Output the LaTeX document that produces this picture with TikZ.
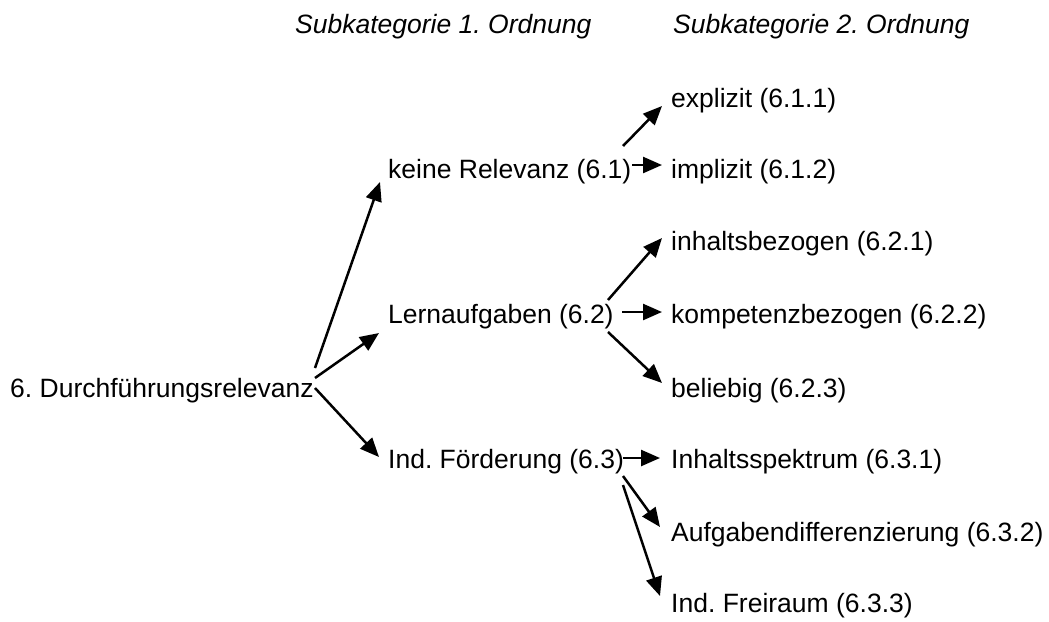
\documentclass[tikz,border=0pt]{standalone}
\usepackage{fontspec}
\setmainfont{Liberation Sans}
\usetikzlibrary{arrows.meta}
\frenchspacing
\begin{document}
\begin{tikzpicture}[x=1pt,y=-1pt,
  lbl/.style={anchor=base west, inner sep=0pt, font=\fontsize{26.5}{32}\selectfont\frenchspacing},
  hdr/.style={lbl, font=\fontsize{26.5}{32}\selectfont\frenchspacing\itshape},
  link/.style={line width=2.5pt, -{Triangle[length=19pt,width=16pt]}}]
\useasboundingbox (0,0) rectangle (1049,621);

% column headings
\node[hdr] (h1) at (295,33) {Subkategorie 1. Ordnung};
\node[hdr] (h2) at (673,33) {Subkategorie 2. Ordnung};

% main category
\node[lbl] (root) at (10,397) {6. Durchführungsrelevanz};

% first-order subcategories
\node[lbl] (k1) at (388,178) {keine Relevanz (6.1)};
\node[lbl] (k2) at (388,323) {Lernaufgaben (6.2)};
\node[lbl] (k3) at (388,468) {Ind. Förderung (6.3)};

% second-order subcategories
\node[lbl] (s11) at (671,107) {explizit (6.1.1)};
\node[lbl] (s12) at (671,178) {implizit (6.1.2)};
\node[lbl] (s21) at (671,250) {inhaltsbezogen (6.2.1)};
\node[lbl] (s22) at (671,323) {kompetenzbezogen (6.2.2)};
\node[lbl] (s23) at (671,397) {beliebig (6.2.3)};
\node[lbl] (s31) at (671,468) {Inhaltsspektrum (6.3.1)};
\node[lbl] (s32) at (671,541) {Aufgabendifferenzierung (6.3.2)};
\node[lbl] (s33) at (671,612) {Ind. Freiraum (6.3.3)};

% arrow end points
\coordinate (r-k1) at (315,368);  \coordinate (k1-in) at (380,182);
\coordinate (r-k2) at (315,378);  \coordinate (k2-in) at (379,333);
\coordinate (r-k3) at (315,388);  \coordinate (k3-in) at (379,457);

\coordinate (k1-s11) at (623,146); \coordinate (s11-in) at (662,106);
\coordinate (k1-s12) at (632,165); \coordinate (s12-in) at (662,165);

\coordinate (k2-s21) at (608,300); \coordinate (s21-in) at (662,238);
\coordinate (k2-s22) at (622,312); \coordinate (s22-in) at (662,312);
\coordinate (k2-s23) at (608,332); \coordinate (s23-in) at (662,383);

\coordinate (k3-s31) at (623,458); \coordinate (s31-in) at (660,458);
\coordinate (k3-s32) at (623,476); \coordinate (s32-in) at (660,527);
\coordinate (k3-s33) at (623,485); \coordinate (s33-in) at (660,596);

% connectors
\draw[link] (r-k1) -- (k1-in);
\draw[link] (r-k2) -- (k2-in);
\draw[link] (r-k3) -- (k3-in);
\draw[link] (k1-s11) -- (s11-in);
\draw[link] (k1-s12) -- (s12-in);
\draw[link] (k2-s21) -- (s21-in);
\draw[link] (k2-s22) -- (s22-in);
\draw[link] (k2-s23) -- (s23-in);
\draw[link] (k3-s31) -- (s31-in);
\draw[link] (k3-s32) -- (s32-in);
\draw[link] (k3-s33) -- (s33-in);
\end{tikzpicture}
\end{document}
